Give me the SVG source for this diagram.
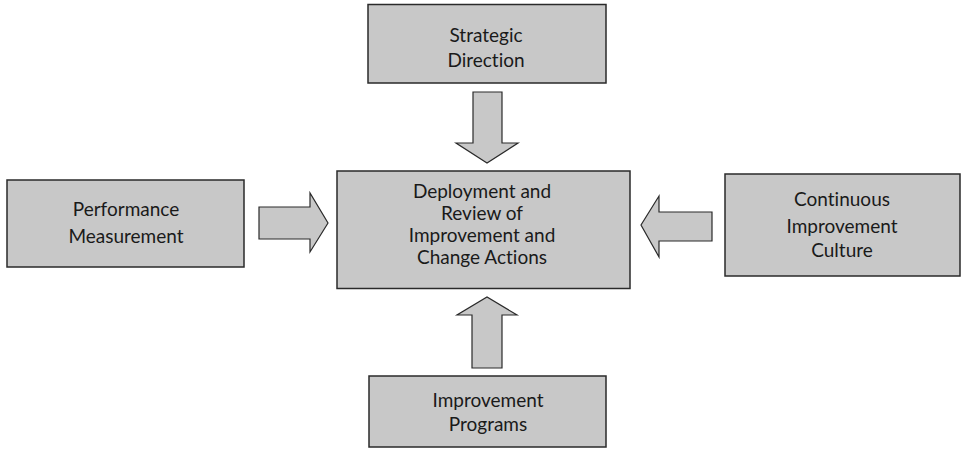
<svg xmlns="http://www.w3.org/2000/svg" width="962" height="449" viewBox="0 0 962 449">
  <style>
    .box { fill: #c8c8c8; stroke: #2a2a2a; stroke-width: 1.5; }
    .arrow { fill: #c8c8c8; stroke: #2a2a2a; stroke-width: 1.2; stroke-linejoin: miter; }
    .label { font-family: "Lato", "Open Sans", "Liberation Sans", sans-serif; font-size: 19px; fill: #1a1a1a; text-anchor: middle; font-variant-ligatures: none; font-feature-settings: "liga" 0; }
  </style>
  <rect width="962" height="449" fill="#ffffff"/>

  <g id="connectors">
    <!-- down from Strategic Direction -->
    <path class="arrow" d="M473,92 H502 V143 H518 L487,163 L456,143 H473 Z"/>
    <!-- right from Performance Measurement -->
    <path class="arrow" d="M259,207 H310 V193 L328,223 L310,252 V239 H259 Z"/>
    <!-- left from Continuous Improvement Culture -->
    <path class="arrow" d="M712,212 H659 V196 L641,225 L659,257 V241 H712 Z"/>
    <!-- up from Improvement Programs -->
    <path class="arrow" d="M472,368 V315 H457 L487,297 L517,315 H502 V368 Z"/>
  </g>

  <g id="strategic-direction">
    <rect class="box" x="368" y="4.5" width="238" height="78.5"/>
    <text class="label" x="486" y="42">Strategic</text>
    <text class="label" x="486" y="67">Direction</text>
  </g>

  <g id="deployment-review">
    <rect class="box" x="337" y="171" width="293" height="117.5"/>
    <text class="label" x="482" y="198">Deployment and</text>
    <text class="label" x="482" y="220">Review of</text>
    <text class="label" x="482" y="242">Improvement and</text>
    <text class="label" x="482" y="264">Change Actions</text>
  </g>

  <g id="performance-measurement">
    <rect class="box" x="7" y="180" width="237" height="87"/>
    <text class="label" x="126" y="216">Performance</text>
    <text class="label" x="126" y="243">Measurement</text>
  </g>

  <g id="continuous-improvement-culture">
    <rect class="box" x="725" y="174" width="235" height="102"/>
    <text class="label" x="842" y="206">Continuous</text>
    <text class="label" x="842" y="233">Improvement</text>
    <text class="label" x="842" y="257">Culture</text>
  </g>

  <g id="improvement-programs">
    <rect class="box" x="369" y="376" width="237" height="71"/>
    <text class="label" x="488" y="407">Improvement</text>
    <text class="label" x="488" y="431">Programs</text>
  </g>
</svg>
